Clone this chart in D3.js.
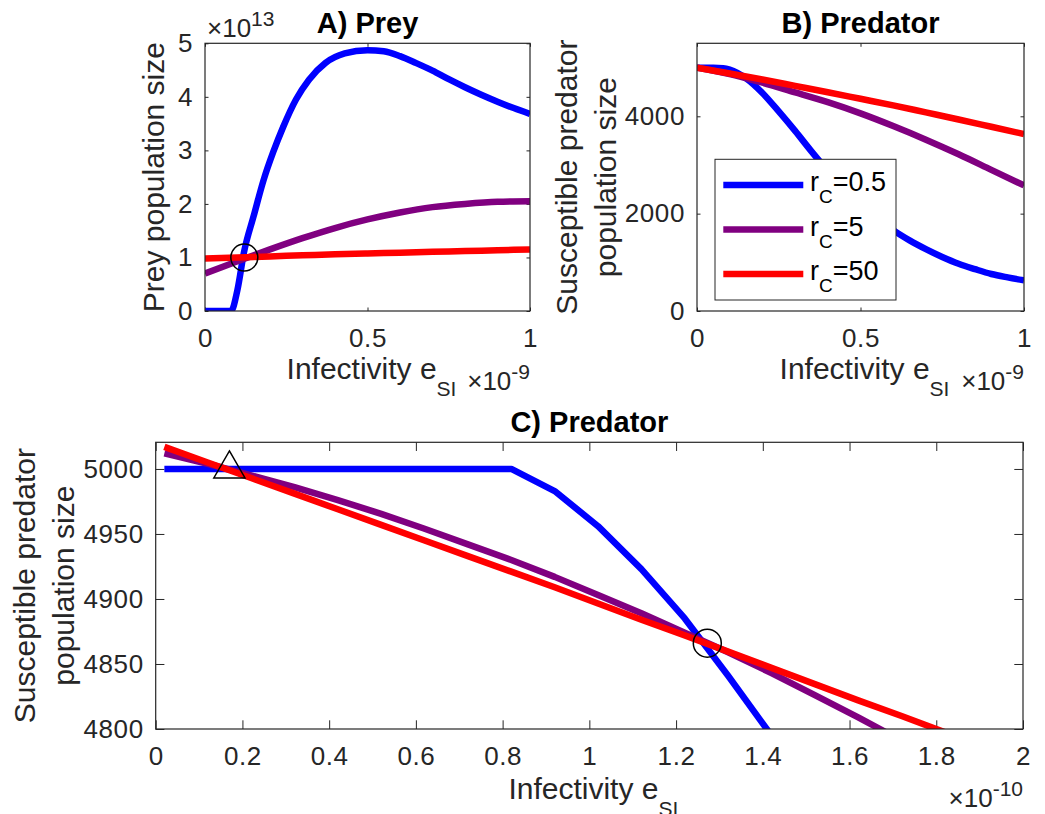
<!DOCTYPE html>
<html><head><meta charset="utf-8">
<script src="https://cdn.jsdelivr.net/npm/d3@7"></script>
<style>
body{margin:0;background:#fff}
svg{display:block}
text{font-family:'Liberation Sans',Arial,Helvetica,sans-serif;fill:#262626}
</style>
</head><body>
<svg id="chart" width="1045" height="814"></svg>
<script>
// ---------------- DATA ----------------
const seriesNames = ["0.5", "5", "50"]; // r_C values

// Panel A: prey population size (x in 1e-9, y in 1e13)
const aBlueX   = [0,0.04,0.08,0.1,0.12,0.15,0.18,0.21,0.24,0.28,0.32,0.37,0.43,0.5,0.55,0.6,0.65,0.7,0.75,0.8,0.85,0.9,0.95,1.0];
const aBlueY   = [0,0,0,0.4,1.1,1.78,2.44,2.97,3.43,3.95,4.32,4.63,4.81,4.87,4.85,4.76,4.63,4.49,4.33,4.18,4.04,3.91,3.79,3.68];
const aX       = [0,0.1,0.2,0.3,0.4,0.5,0.6,0.7,0.8,0.9,1.0];
const aPurpleY = [0.70,0.93,1.15,1.36,1.55,1.71,1.84,1.94,2.00,2.04,2.05];
const aRedY    = [0.98,1.0,1.02,1.04,1.06,1.075,1.09,1.105,1.12,1.135,1.15];
const aXTicks  = [0, 0.5, 1];
const aYTicks  = [0, 1, 2, 3, 4, 5];
const aCircle  = [0.121, 1.0];

// Panel B: susceptible predator (x in 1e-9)
const bBlueX   = [0,0.05,0.08,0.1,0.15,0.2,0.25,0.3,0.35,0.4,0.45,0.5,0.55,0.6,0.65,0.7,0.75,0.8,0.85,0.9,0.95,1.0];
const bBlueY   = [5000,5000,4990,4960,4780,4480,4100,3700,3280,2880,2520,2200,1920,1660,1450,1270,1110,970,860,760,690,630];
const bX       = [0,0.1,0.2,0.3,0.4,0.5,0.6,0.7,0.8,0.9,1.0];
const bPurpleY = [5000,4870,4690,4490,4290,4060,3800,3520,3220,2900,2580];
const bRedY    = [5000,4880,4755,4625,4495,4360,4225,4080,3935,3785,3635];
const bXTicks  = [0, 0.5, 1];
const bYTicks  = [0, 2000, 4000];

// Panel C: zoom of predator (x in 1e-10)
const cX       = [0.02,0.12,0.22,0.32,0.42,0.52,0.62,0.72,0.82,0.92,1.02,1.12,1.22,1.32,1.42,1.52,1.62,1.72,1.82];
const cBlueY   = [5000,5000,5000,5000,5000,5000,5000,5000,5000,4983,4956,4923,4885,4841,4795,null,null,null,null];
const cPurpleY = [5012,5004,4995,4986,4976,4965.5,4954,4942,4930,4917,4903,4889,4874,4859,4843,4826,4809,4791,null];
const cRedY    = [5017,5005,4993,4981,4969,4957,4945,4933,4921,4909,4896.5,4884,4872,4859.5,4847,4834.5,4822,4810,4797.5];
const cXTicks  = [0,0.2,0.4,0.6,0.8,1,1.2,1.4,1.6,1.8,2];
const cYTicks  = [4800,4850,4900,4950,5000];
const cTriangle = [0.17, 5000];
const cCircle   = [1.272, 4866];

// ---------------- DRAWING ----------------
const COLORS = ["#0000ff", "#800080", "#ff0000"];
const AX = "#262626";
const TICK_FS = 26, LABEL_FS = 30, TITLE_FS = 29, EXP_FS = 26, SUP_FS = 21, SUB_FS = 21;
const svg = d3.select("#chart");
const zip = (xs, ys) => xs.map((x, i) => [x, ys[i]]);

function panel(o) {
  const g = svg.append("g");
  const x = d3.scaleLinear().domain(o.xDomain).range([o.left, o.right]);
  const y = d3.scaleLinear().domain(o.yDomain).range([o.bottom, o.top]);
  const fmt = d => String(d);
  const tl = o.tickLen;

  const styleAxis = (sel, labels) => {
    sel.attr("font-family", null).attr("font-size", null);
    sel.select(".domain").remove();
    sel.selectAll(".tick line").attr("stroke", AX).attr("stroke-width", 1);
    sel.selectAll(".tick text")
      .attr("fill", AX).style("font-size", TICK_FS + "px").style("letter-spacing", "0.6px");
    if (!labels) sel.selectAll(".tick text").remove();
  };

  g.append("g").attr("transform", `translate(0,${o.bottom})`)
    .call(d3.axisBottom(x).tickValues(o.xTicks).tickFormat(fmt).tickSize(-tl).tickPadding(18))
    .call(s => styleAxis(s, true));
  g.append("g").attr("transform", `translate(0,${o.top})`)
    .call(d3.axisTop(x).tickValues(o.xTicks).tickSize(-tl))
    .call(s => styleAxis(s, false));
  g.append("g").attr("transform", `translate(${o.left},0)`)
    .call(d3.axisLeft(y).tickValues(o.yTicks).tickFormat(fmt).tickSize(-tl).tickPadding(12))
    .call(s => styleAxis(s, true));
  g.append("g").attr("transform", `translate(${o.right},0)`)
    .call(d3.axisRight(y).tickValues(o.yTicks).tickSize(-tl))
    .call(s => styleAxis(s, false));

  const clipId = "clip" + o.id;
  svg.append("clipPath").attr("id", clipId).append("rect")
    .attr("x", o.left).attr("y", o.top)
    .attr("width", o.right - o.left).attr("height", o.bottom - o.top);

  const line = d3.line()
    .defined(d => d[1] !== null)
    .x(d => x(d[0])).y(d => y(d[1]))
    .curve(o.curve);

  const lg = g.append("g").attr("clip-path", `url(#${clipId})`);
  o.series.forEach((s, i) => {
    lg.append("path").datum(s)
      .attr("d", line)
      .attr("fill", "none")
      .attr("stroke", COLORS[i])
      .attr("stroke-width", 6.5)
      .attr("stroke-linejoin", "round")
      .attr("stroke-linecap", "butt");
  });

  g.append("rect")
    .attr("x", o.left).attr("y", o.top)
    .attr("width", o.right - o.left).attr("height", o.bottom - o.top)
    .attr("fill", "none").attr("stroke", AX).attr("stroke-width", 1.2);

  // title
  g.append("text")
    .attr("x", (o.left + o.right) / 2).attr("y", o.titleY)
    .attr("text-anchor", "middle")
    .style("font-size", TITLE_FS + "px").style("font-weight", "bold").style("fill", "#000")
    .text(o.title);

  // x label with subscript
  const xl = g.append("text")
    .attr("x", (o.left + o.right) / 2 + 4).attr("y", o.xLabelY)
    .attr("text-anchor", "middle").style("font-size", LABEL_FS + "px");
  xl.append("tspan").text("Infectivity e");
  xl.append("tspan").attr("dy", 17).style("font-size", SUB_FS + "px").text("SI");

  // x exponent
  const xe = g.append("text")
    .attr("x", o.right).attr("y", o.xExpY)
    .attr("text-anchor", "end").style("font-size", EXP_FS + "px");
  xe.append("tspan").text("\u00d710");
  xe.append("tspan").attr("dy", -11).style("font-size", SUP_FS + "px").text(o.xExp);

  // y label (one or two lines)
  const cy = (o.top + o.bottom) / 2;
  o.yLabel.forEach((t, i) => {
    g.append("text")
      .attr("transform", `translate(${o.yLabelX[i]},${cy}) rotate(-90)`)
      .attr("text-anchor", "middle").style("font-size", LABEL_FS + "px")
      .text(t);
  });

  return {g, x, y};
}

// Panel A
const A = panel({
  id: "A", left: 205, right: 530, top: 43.3, bottom: 311,
  xDomain: [0, 1], yDomain: [0, 5], xTicks: aXTicks, yTicks: aYTicks, tickLen: 3.5,
  curve: d3.curveMonotoneX,
  series: [zip(aBlueX, aBlueY), zip(aX, aPurpleY), zip(aX, aRedY)],
  title: "A) Prey", titleY: 33,
  xLabelY: 379, xExpY: 390, xExp: "-9",
  yLabel: ["Prey population size"], yLabelX: [164]
});
// y exponent for A
const ye = A.g.append("text").attr("x", 207).attr("y", 37).style("font-size", EXP_FS + "px");
ye.append("tspan").text("\u00d710");
ye.append("tspan").attr("dy", -11).style("font-size", SUP_FS + "px").text("13");
A.g.append("circle")
  .attr("cx", A.x(aCircle[0])).attr("cy", A.y(aCircle[1])).attr("r", 13.5)
  .attr("fill", "none").attr("stroke", "#000").attr("stroke-width", 1.5);

// Panel B
const B = panel({
  id: "B", left: 697, right: 1024, top: 43.3, bottom: 311,
  xDomain: [0, 1], yDomain: [0, 5500], xTicks: bXTicks, yTicks: bYTicks, tickLen: 3.5,
  curve: d3.curveMonotoneX,
  series: [zip(bBlueX, bBlueY), zip(bX, bPurpleY), zip(bX, bRedY)],
  title: "B) Predator", titleY: 33,
  xLabelY: 379, xExpY: 390, xExp: "-9",
  yLabel: ["Susceptible predator", "population size"], yLabelX: [577, 616]
});
// legend
const leg = B.g.append("g");
leg.append("rect").attr("x", 715).attr("y", 159.3).attr("width", 181).attr("height", 140.7)
  .attr("fill", "#fff").attr("stroke", AX).attr("stroke-width", 1);
seriesNames.forEach((n, i) => {
  const ly = 185 + i * 44.5;
  leg.append("line").attr("x1", 723.3).attr("x2", 803.3).attr("y1", ly).attr("y2", ly)
    .attr("stroke", COLORS[i]).attr("stroke-width", 6.5);
  const t = leg.append("text").attr("x", 810).attr("y", ly + 6).style("font-size", "27px").style("fill", "#000");
  t.append("tspan").text("r");
  t.append("tspan").attr("dy", 12).style("font-size", "19px").text("C");
  t.append("tspan").attr("dy", -12).text("=" + n);
});

// Panel C
const C = panel({
  id: "C", left: 155.7, right: 1023, top: 442.3, bottom: 729,
  xDomain: [0, 2], yDomain: [4800, 5020.5], xTicks: cXTicks, yTicks: cYTicks, tickLen: 8.7,
  curve: d3.curveLinear,
  series: [zip(cX, cBlueY), zip(cX, cPurpleY), zip(cX, cRedY)],
  title: "C) Predator", titleY: 431.7,
  xLabelY: 799, xExpY: 806.5, xExp: "-10",
  yLabel: ["Susceptible predator", "population size"], yLabelX: [35, 74]
});
C.g.append("path")
  .attr("d", d3.symbol(d3.symbolTriangle, 421)())
  .attr("transform", `translate(${C.x(cTriangle[0])},${C.y(cTriangle[1])})`)
  .attr("fill", "none").attr("stroke", "#000").attr("stroke-width", 1.5);
C.g.append("circle")
  .attr("cx", C.x(cCircle[0])).attr("cy", C.y(cCircle[1])).attr("r", 14)
  .attr("fill", "none").attr("stroke", "#000").attr("stroke-width", 1.5);
</script>
</body></html>
